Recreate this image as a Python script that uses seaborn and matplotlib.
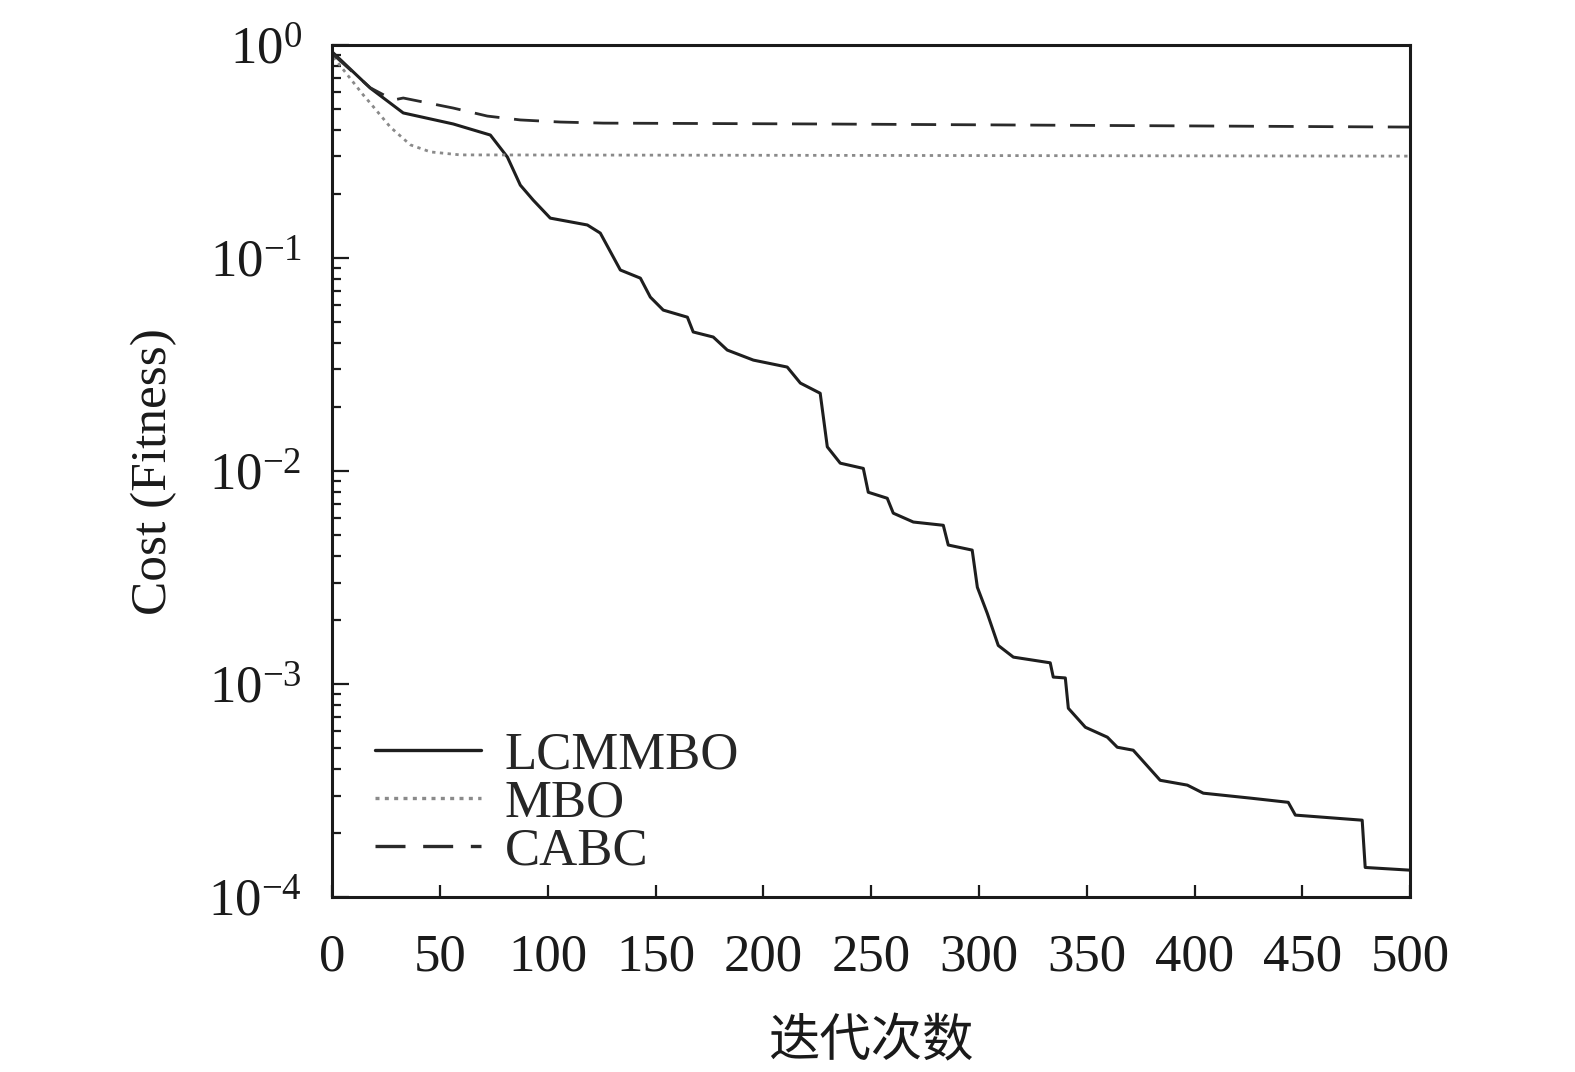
import numpy as np
import pandas as pd
import matplotlib
matplotlib.use("Agg")
import matplotlib.pyplot as plt
import seaborn as sns
from matplotlib.ticker import LogLocator, NullFormatter

# ---- data ----
lc_x = [0, 17.6, 32.9, 56.1, 73.3, 81.2, 87.2, 93.2, 101.1, 118.3, 124.3, 133.6,
        142.9, 147.5, 153.5, 164.7, 167.4, 176.7, 183.2, 195.3, 211.0, 217.1, 226.3,
        229.6, 235.6, 246.3, 248.6, 257.4, 260.2, 269.5, 283.4, 285.7, 296.8, 299.2,
        303.8, 308.9, 315.9, 333.0, 334.4, 340.0, 341.4, 349.3, 359.5, 364.1, 371.5,
        384.0, 396.6, 404.0, 425.8, 443.4, 446.7, 477.7, 479.1, 500]
lc_y = [0.927, 0.628, 0.480, 0.426, 0.378, 0.298, 0.220, 0.187, 0.154, 0.143, 0.131,
        0.0879, 0.0805, 0.0656, 0.0570, 0.0528, 0.0450, 0.0426, 0.0370, 0.0332, 0.0308,
        0.0259, 0.0232, 0.0130, 0.0109, 0.0103, 0.00796, 0.00746, 0.00635, 0.00577,
        0.00557, 0.00450, 0.00426, 0.00285, 0.00215, 0.00152, 0.00134, 0.00126, 0.00108,
        0.00107, 0.000771, 0.000628, 0.000564, 0.000506, 0.000490, 0.000354, 0.000336,
        0.000308, 0.000292, 0.000279, 0.000243, 0.000230, 0.000138, 0.000134]

mbo_x = [0.5, 14.4, 17.6, 26.9, 36.2, 45.5, 59.4, 500]
mbo_y = [0.878, 0.582, 0.534, 0.412, 0.340, 0.315, 0.305, 0.301]

cabc_x = [0.5, 17.6, 28.3, 32.9, 56.1, 71.9, 87.2, 105.8, 125.7, 226.0, 500]
cabc_y = [0.90, 0.63, 0.552, 0.564, 0.506, 0.464, 0.445, 0.435, 0.430, 0.426, 0.412]

labels = ["LCMMBO", "MBO", "CABC"]
x_ticks = [0, 50, 100, 150, 200, 250, 300, 350, 400, 450, 500]

sns.set_theme(style="white")
plt.rcParams['font.family'] = ['Liberation Serif', 'DejaVu Serif']
plt.rcParams['mathtext.fontset'] = 'custom'
plt.rcParams['mathtext.rm'] = 'Liberation Serif'
plt.rcParams['mathtext.it'] = 'Liberation Serif:italic'
plt.rcParams['mathtext.bf'] = 'Liberation Serif:bold'

fig = plt.figure(figsize=(15.75, 10.72), dpi=100)
ax = fig.add_axes([0.211, 0.163, 0.6844, 0.795])

sns.lineplot(x=lc_x, y=lc_y, ax=ax, color="#1e1e1e", linewidth=2.2,
             label=labels[0], estimator=None, sort=False)
sns.lineplot(x=mbo_x, y=mbo_y, ax=ax, color="#8a8a8a", linewidth=2.0,
             linestyle=(0, (1.2, 1.6)), label=labels[1], estimator=None, sort=False)
sns.lineplot(x=cabc_x, y=cabc_y, ax=ax, color="#2a2a2a", linewidth=2.0,
             linestyle=(0, (9, 5.3)), label=labels[2], estimator=None, sort=False)

ax.set_yscale("log")
ax.set_xlim(0, 500)
ax.set_ylim(1e-4, 1e0)
ax.set_xticks(x_ticks)
ax.yaxis.set_major_locator(LogLocator(base=10, numticks=10))
ax.yaxis.set_minor_locator(LogLocator(base=10, subs=np.arange(2, 10), numticks=100))
ax.yaxis.set_minor_formatter(NullFormatter())

for s in ax.spines.values():
    s.set_linewidth(2.2)
    s.set_color("#1a1a1a")

ax.tick_params(axis='x', which='major', direction='in', length=9, width=1.6,
               labelsize=38, pad=26, colors="#1a1a1a", top=False, bottom=True)
ax.tick_params(axis='y', which='major', direction='in', length=12, width=1.6,
               labelsize=38, pad=22, colors="#1a1a1a", left=True, right=False)
ax.tick_params(axis='y', which='minor', direction='in', length=6.5, width=1.6,
               left=True, right=False, colors="#1a1a1a")

ax.set_ylabel("Cost (Fitness)", fontsize=37, labelpad=22, color="#1a1a1a")
ax.set_xlabel("迭代次数", fontsize=37, labelpad=24, color="#1a1a1a",
              family=['Noto Sans CJK SC', 'DejaVu Sans'])

leg = ax.legend(loc='lower left', bbox_to_anchor=(0.04, 0.025), frameon=False,
                fontsize=38, handlelength=2.0, handletextpad=0.45,
                labelspacing=0.0, borderpad=0, borderaxespad=0)
for h in leg.get_lines():
    h.set_linewidth(2.4)

fig.savefig("out.png", dpi=100, facecolor="white")
